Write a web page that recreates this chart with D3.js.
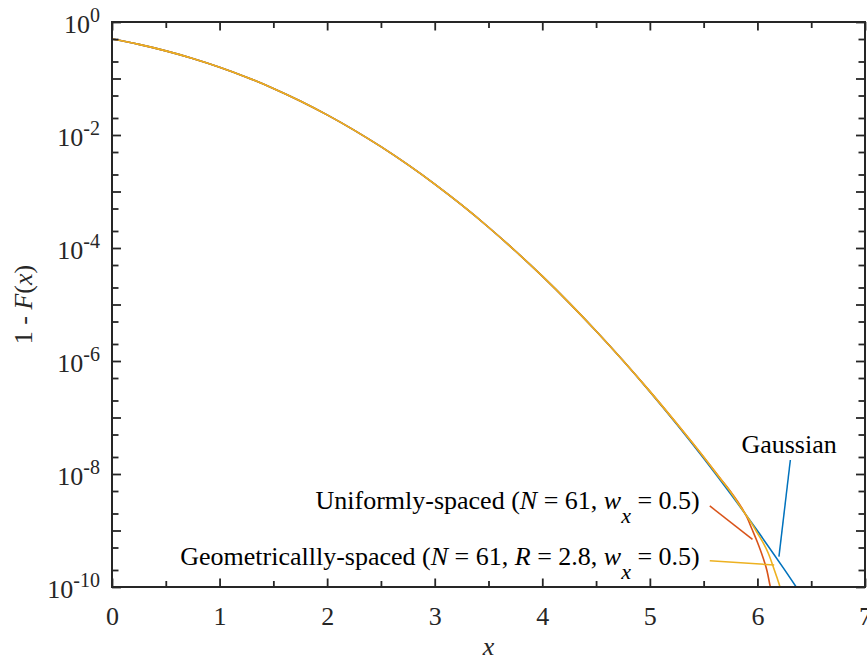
<!DOCTYPE html>
<html>
<head>
<meta charset="utf-8">
<script src="https://cdn.jsdelivr.net/npm/d3@7"></script>
<style>
  body { margin: 0; background: #fff; }
  svg { display: block; font-family: "Liberation Serif", "Times New Roman", serif; }
</style>
</head>
<body>
<div id="chart"></div>
<script>
// values
const xGauss = [0, 0.25, 0.5, 0.75, 1, 1.25, 1.5, 1.75, 2, 2.25, 2.5, 2.75, 3, 3.25, 3.5, 3.75, 4, 4.25, 4.5, 4.75, 5, 5.25, 5.5, 5.75, 6, 6.25, 6.5];
const yGauss = [0.5, 0.4013, 0.3085, 0.2266, 0.1587, 0.1057, 0.0668, 0.0401, 0.02275, 0.01222, 0.00621, 0.00298, 1.35e-3, 5.77e-4, 2.33e-4, 8.84e-5, 3.17e-5, 1.07e-5, 3.40e-6, 1.02e-6, 2.87e-7, 7.6e-8, 1.9e-8, 4.46e-9, 9.87e-10, 2.05e-10, 4.0e-11];

const xUniform = [0, 0.25, 0.5, 0.75, 1, 1.25, 1.5, 1.75, 2, 2.25, 2.5, 2.75, 3, 3.25, 3.5, 3.75, 4, 4.25, 4.5, 4.75, 5, 5.25, 5.5, 5.65, 5.75, 5.85, 5.9, 5.95, 6.0, 6.05, 6.09, 6.12, 6.14];
const yUniform = [0.5, 0.4013, 0.3085, 0.2266, 0.1587, 0.1057, 0.0668, 0.0401, 0.02275, 0.01222, 0.00621, 0.00298, 1.35e-3, 5.77e-4, 2.33e-4, 8.84e-5, 3.17e-5, 1.07e-5, 3.40e-6, 1.02e-6, 2.9e-7, 7.8e-8, 2.0e-8, 8.6e-9, 4.9e-9, 2.6e-9, 1.75e-9, 1.05e-9, 6.2e-10, 3.4e-10, 1.9e-10, 1.0e-10, 7e-11];

const xGeom = [0, 0.25, 0.5, 0.75, 1, 1.25, 1.5, 1.75, 2, 2.25, 2.5, 2.75, 3, 3.25, 3.5, 3.75, 4, 4.25, 4.5, 4.75, 5, 5.25, 5.5, 5.65, 5.75, 5.85, 5.95, 6.0, 6.05, 6.1, 6.15, 6.18, 6.21, 6.23];
const yGeom = [0.5, 0.4013, 0.3085, 0.2266, 0.1587, 0.1057, 0.0668, 0.0401, 0.02275, 0.01222, 0.00621, 0.00298, 1.35e-3, 5.77e-4, 2.33e-4, 8.84e-5, 3.17e-5, 1.07e-5, 3.40e-6, 1.02e-6, 2.9e-7, 7.8e-8, 2.0e-8, 8.5e-9, 4.8e-9, 2.5e-9, 1.3e-9, 9.0e-10, 6.2e-10, 4.0e-10, 2.2e-10, 1.5e-10, 1.0e-10, 7e-11];

const xTicks = [0, 1, 2, 3, 4, 5, 6, 7];
const xMinorTicks = [0.5, 1.5, 2.5, 3.5, 4.5, 5.5, 6.5];
const yDecades = [1e0, 1e-1, 1e-2, 1e-3, 1e-4, 1e-5, 1e-6, 1e-7, 1e-8, 1e-9, 1e-10];
const yLabelTicks = [1e0, 1e-2, 1e-4, 1e-6, 1e-8, 1e-10];
const yLabelExps = ["0", "-2", "-4", "-6", "-8", "-10"];
const yMinorTicks = [5e-1, 2e-1, 5e-2, 2e-2, 5e-3, 2e-3, 5e-4, 2e-4, 5e-5, 2e-5, 5e-6, 2e-6, 5e-7, 2e-7, 5e-8, 2e-8, 5e-9, 2e-9, 5e-10, 2e-10];

// annotation text + pointer lines, in data coordinates
const annotations = [
  { color: "#0072BD", anchor: "start", tx: 5.851, ty: 2.35e-8, parts: [["Gaussian"]],
    line: [[6.306, 1.77e-8], [6.200, 3.44e-10]] },
  { color: "#D95319", anchor: "end", tx: 5.464, ty: 2.4e-9,
    parts: [["Uniformly-spaced ("], ["N", "i"], [" = 61, "], ["w", "i"], ["x", "sub"], [" = 0.5)"]],
    line: [[5.557, 2.72e-9], [5.954, 6.98e-10]] },
  { color: "#EDB120", anchor: "end", tx: 5.464, ty: 2.45e-10,
    parts: [["Geometricallly-spaced ("], ["N", "i"], [" = 61, "], ["R", "i"], [" = 2.8, "], ["w", "i"], ["x", "sub"], [" = 0.5)"]],
    line: [[5.557, 2.92e-10], [6.156, 2.45e-10]] }
];

const margin = { top: 22, right: 2, bottom: 78, left: 112 };
const width = 867 - margin.left - margin.right;
const height = 665 - margin.top - margin.bottom;
const axisColor = "#262626";

const svg = d3.select("#chart").append("svg")
  .attr("width", 867)
  .attr("height", 665);

const g = svg.append("g")
  .attr("transform", `translate(${margin.left},${margin.top})`);

const x = d3.scaleLinear().domain([0, 7]).range([0, width]);
const y = d3.scaleLog().domain([1e-10, 1]).range([height, 0]);

svg.append("defs").append("clipPath").attr("id", "plotclip")
  .append("rect").attr("width", width).attr("height", height);

// curves
const series = [
  { xs: xGauss, ys: yGauss, color: "#0072BD" },
  { xs: xUniform, ys: yUniform, color: "#D95319" },
  { xs: xGeom, ys: yGeom, color: "#EDB120" }
];

const line = d3.line()
  .x(d => x(d[0]))
  .y(d => y(d[1]))
  .curve(d3.curveMonotoneX);

const curves = g.append("g").attr("clip-path", "url(#plotclip)");
series.forEach(s => {
  curves.append("path")
    .datum(s.xs.map((v, i) => [v, s.ys[i]]))
    .attr("fill", "none")
    .attr("stroke", s.color)
    .attr("stroke-width", 1.6)
    .attr("d", line);
});

// axes: ticks point inwards on all four sides
function styleAxis(sel) {
  sel.select(".domain").remove();
  sel.selectAll(".tick line").attr("stroke", axisColor).attr("stroke-width", 1.8);
  sel.selectAll(".tick text").attr("fill", axisColor).attr("font-size", 26)
    .attr("font-family", "Liberation Serif, Times New Roman, serif");
}

g.append("g").attr("transform", `translate(0,${height})`)
  .call(d3.axisBottom(x).tickValues(xTicks).tickSize(-8.5).tickPadding(20).tickFormat(d3.format("d")))
  .call(styleAxis);
g.append("g").attr("transform", `translate(0,${height})`)
  .call(d3.axisBottom(x).tickValues(xMinorTicks).tickSize(-6).tickFormat(""))
  .call(styleAxis);
g.append("g")
  .call(d3.axisTop(x).tickValues(xTicks).tickSize(-8.5).tickFormat(""))
  .call(styleAxis);
g.append("g")
  .call(d3.axisTop(x).tickValues(xMinorTicks).tickSize(-6).tickFormat(""))
  .call(styleAxis);

const yAxisG = g.append("g")
  .call(d3.axisLeft(y).tickValues(yDecades).tickSize(-9).tickPadding(12).tickFormat(""))
  .call(styleAxis);
g.append("g")
  .call(d3.axisLeft(y).tickValues(yMinorTicks).tickSize(-6.5).tickFormat(""))
  .call(styleAxis);
g.append("g").attr("transform", `translate(${width},0)`)
  .call(d3.axisRight(y).tickValues(yDecades).tickSize(-9).tickFormat(""))
  .call(styleAxis);
g.append("g").attr("transform", `translate(${width},0)`)
  .call(d3.axisRight(y).tickValues(yMinorTicks).tickSize(-6.5).tickFormat(""))
  .call(styleAxis);

// y tick labels as 10 with a superscript exponent
yAxisG.selectAll(".tick").each(function(d) {
  const idx = yLabelTicks.findIndex(v => Math.abs(Math.log10(v) - Math.log10(d)) < 1e-6);
  if (idx < 0) return;
  const t = d3.select(this).select("text");
  t.text(null).attr("dy", "0.42em");
  t.append("tspan").text("10");
  t.append("tspan").attr("dy", -11).attr("font-size", 20).text(yLabelExps[idx]);
});

// box
g.append("rect")
  .attr("width", width).attr("height", height)
  .attr("fill", "none")
  .attr("stroke", axisColor)
  .attr("stroke-width", 2);

// axis titles
g.append("text")
  .attr("x", width / 2).attr("y", height + 68)
  .attr("text-anchor", "middle")
  .attr("font-size", 26).attr("font-style", "italic")
  .attr("fill", axisColor)
  .text("x");

const yTitle = svg.append("text")
  .attr("transform", `translate(32,${margin.top + height / 2}) rotate(-90)`)
  .attr("text-anchor", "middle")
  .attr("font-size", 26)
  .attr("fill", axisColor);
yTitle.append("tspan").text("1 - ");
yTitle.append("tspan").attr("font-style", "italic").text("F");
yTitle.append("tspan").text("(");
yTitle.append("tspan").attr("font-style", "italic").text("x");
yTitle.append("tspan").text(")");

// annotations
annotations.forEach(a => {
  g.append("line")
    .attr("x1", x(a.line[0][0])).attr("y1", y(a.line[0][1]))
    .attr("x2", x(a.line[1][0])).attr("y2", y(a.line[1][1]))
    .attr("stroke", a.color)
    .attr("stroke-width", 1.5);

  const t = g.append("text")
    .attr("x", x(a.tx)).attr("y", y(a.ty))
    .attr("text-anchor", a.anchor)
    .attr("font-size", 26)
    .attr("fill", "#000");
  let lowered = false;
  a.parts.forEach(p => {
    const ts = t.append("tspan").text(p[0]);
    if (p[1] === "i") ts.attr("font-style", "italic");
    if (p[1] === "sub") {
      ts.attr("font-style", "italic").attr("font-size", 22).attr("dy", 14);
      lowered = true;
    } else if (lowered) {
      ts.attr("dy", -14);
      lowered = false;
    }
  });
});
</script>
</body>
</html>
